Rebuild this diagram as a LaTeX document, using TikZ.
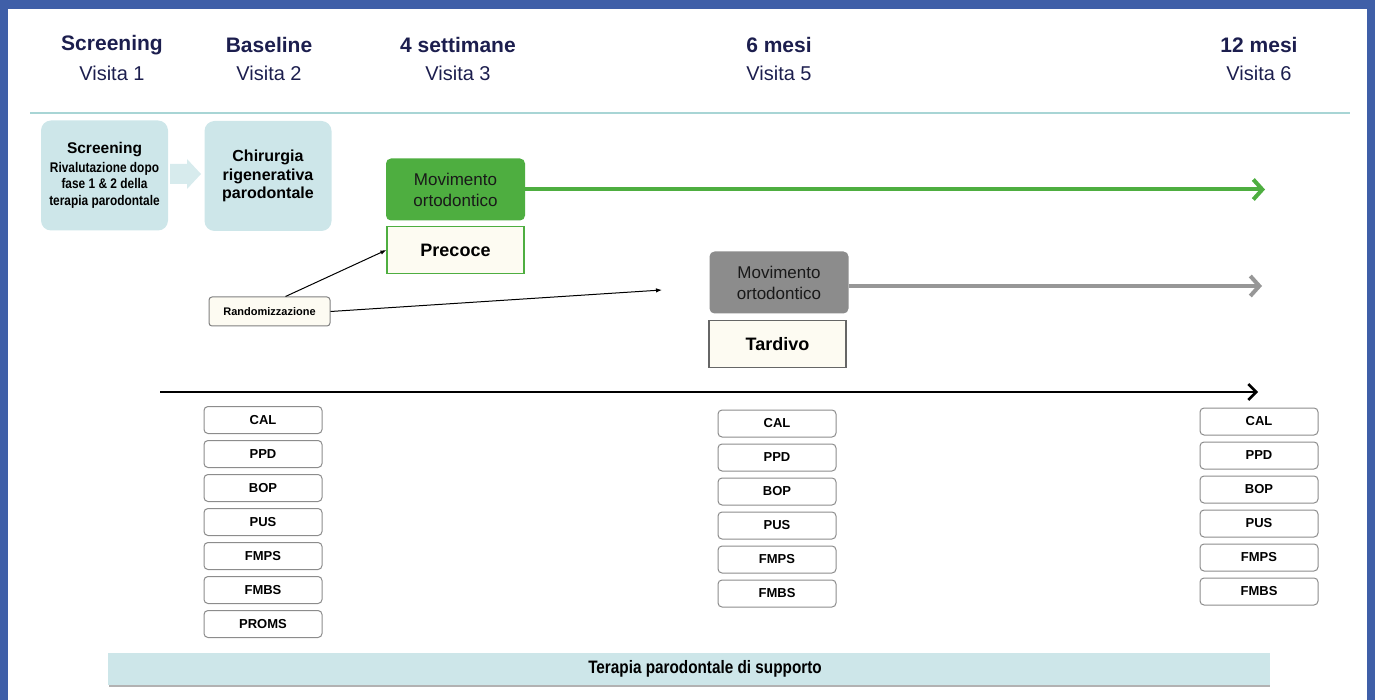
\documentclass[tikz,border=0pt]{standalone}
\usepackage{fontspec}
\setmainfont{Liberation Sans}
\newfontfamily\narrowfont[FakeStretch=0.85]{Liberation Sans}
\usepackage{tikz}
\usetikzlibrary{arrows.meta}
\usetikzlibrary{positioning}
\tikzset{hdr/.style = {text=mnavy, font=\fontsize{21}{23}\selectfont\bfseries},
         visit/.style = {text=mnavy, font=\fontsize{20}{22}\selectfont},
         stagebox/.style = {fill=mteal, rounded corners=10pt, align=center,
                            minimum width=127pt, minimum height=110pt},
         movbox/.style = {rounded corners=5pt, align=center, text=black!90,
                          minimum width=139pt, minimum height=62pt,
                          font=\fontsize{17}{21}\selectfont},
         armbox/.style = {fill=mcream, line width=1.2pt, minimum width=137pt,
                          minimum height=47pt, font=\fontsize{18}{20}\selectfont\bfseries},
         metric/.style = {draw=gray!90, fill=white, line width=1pt, rounded corners=4pt,
                          minimum width=118pt, minimum height=27pt,
                          font=\fontsize{13}{15}\selectfont\bfseries},
         chevron/.style = {-{Straight Barb[length=9pt, width=20pt]}}}
\definecolor{mblue}{RGB}{63, 95, 168}
\definecolor{mnavy}{RGB}{28, 30, 78}
\definecolor{mteal}{RGB}{205, 230, 233}
\definecolor{mline}{RGB}{168, 213, 213}
\definecolor{mgreen}{RGB}{78, 174, 64}
\definecolor{mgrey}{RGB}{140, 140, 140}
\definecolor{mcream}{RGB}{253, 251, 242}

\begin{document}
\begin{tikzpicture}[x=1pt, y=-1pt]
    \useasboundingbox (0, 0) rectangle (1375, 700);
    \fill [mblue] (0, 0) rectangle (1375, 9);
    \fill [mblue] (0, 0) rectangle (8, 700);
    \fill [mblue] (1367, 0) rectangle (1375, 700);
    % visits
    \node [hdr] (h1) at (112, 45) {Screening};
    \node [visit] (v1) at (112, 73) {Visita 1};
    \node [hdr] (h2) at (269, 45) {Baseline};
    \node [visit] (v2) at (269, 73) {Visita 2};
    \node [hdr] (h3) at (458, 45) {4 settimane};
    \node [visit] (v3) at (458, 73) {Visita 3};
    \node [hdr] (h5) at (779, 45) {6 mesi};
    \node [visit] (v5) at (779, 73) {Visita 5};
    \node [hdr] (h6) at (1259, 45) {12 mesi};
    \node [visit] (v6) at (1259, 73) {Visita 6};
    \draw [mline, line width=2pt] (30, 113) -- (1350, 113);
    % stages
    \node [stagebox, font=\narrowfont\bfseries\fontsize{14}{16.5}\selectfont] (screen) at (104.5, 175.5)
        {{\normalfont\bfseries\fontsize{15.5}{17}\selectfont Screening}\\[2pt]
         Rivalutazione dopo\\fase 1 \& 2 della\\terapia parodontale};
    \node [stagebox, font=\fontsize{16}{18.5}\selectfont\bfseries] (chir) at (268, 176)
        {Chirurgia\\rigenerativa\\parodontale};
    \fill [mteal!80] (170, 164) -- (187, 164) -- (187, 159) -- (201, 174) -- (187, 189)
        -- (187, 184) -- (170, 184) -- cycle;
    % arms
    \node [movbox, fill=mgreen] (early) at (455.5, 189.5) {Movimento\\ortodontico};
    \node [armbox, draw=mgreen] (precoce) at (455.5, 250) {Precoce};
    \node [movbox, fill=mgrey] (late) at (779, 282.5) {Movimento\\ortodontico};
    \node [armbox, draw=gray!80!black] (tardivo) at (777.5, 344) {Tardivo};
    \draw [mgreen, line width=4pt, chevron] (early) -- (1265, 189.5);
    \draw [mgrey!90, line width=4pt, chevron] (late.east |- 0, 286) -- (1262, 286);
    \node [draw=gray, fill=mcream, line width=1pt, rounded corners=3pt, minimum width=121pt,
           minimum height=29pt, font=\fontsize{11}{13}\selectfont\bfseries] (rand) at (269.5, 311.5)
        {Randomizzazione};
    \coordinate (late in) at (662, 290);
    \draw [-{Latex[length=6pt]}, line width=1pt] (rand.north east) ++(-45, 0) -- (precoce.west);
    \draw [-{Latex[length=6pt]}, line width=1pt] (rand.east) -- (late in);
    % follow-up
    \coordinate (t0) at (160, 392);
    \coordinate (t1) at (1258, 392);
    \draw [line width=2.5pt, -{Straight Barb[length=8pt, width=16pt]}] (t0) -- (t1);
    \foreach \m [count=\i] in {CAL, PPD, BOP, PUS, FMPS, FMBS, PROMS}
        \node [metric] (b\i) at (263, 386 + 34*\i) {\m};
    \foreach \m [count=\i] in {CAL, PPD, BOP, PUS, FMPS, FMBS}
        \node [metric] (s\i) at (777, 389.5 + 34*\i) {\m};
    \foreach \m [count=\i] in {CAL, PPD, BOP, PUS, FMPS, FMBS}
        \node [metric] (y\i) at (1259, 387.5 + 34*\i) {\m};
    \fill [gray!60] (109, 656) rectangle (1270, 687);
    \fill [mteal] (108, 653) rectangle (1270, 685);
    \node [font=\narrowfont\bfseries\fontsize{18}{20}\selectfont] (spt) at (705, 669)
        {Terapia parodontale di supporto};
  \end{tikzpicture}
\end{document}
